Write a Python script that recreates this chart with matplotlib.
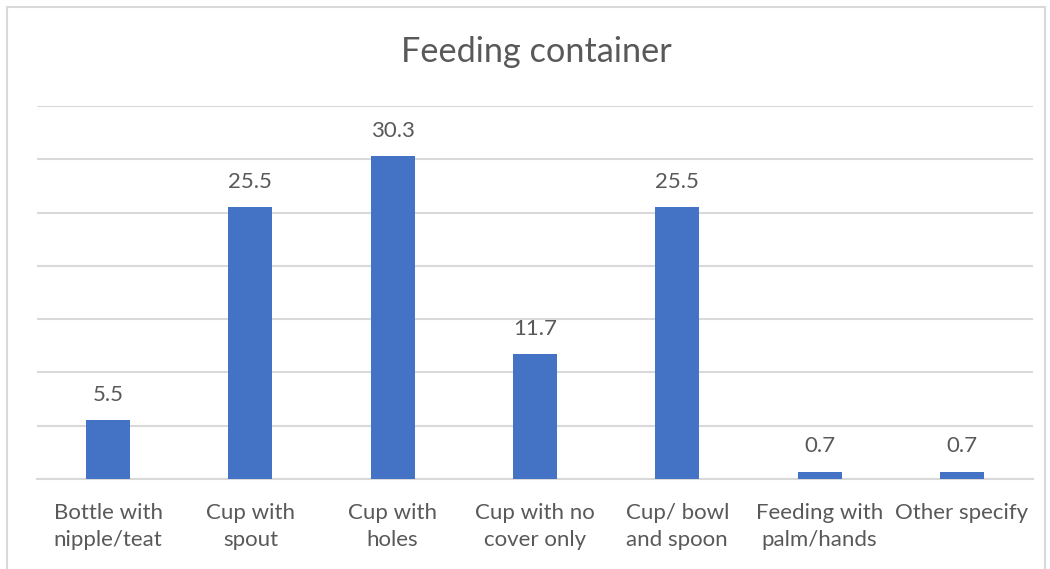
import matplotlib.pyplot as plt
from matplotlib.patches import Rectangle

# Feeding container shares (%)
categories = ["Bottle with\nnipple/teat", "Cup with\nspout", "Cup with\nholes",
              "Cup with no\ncover only", "Cup/ bowl\nand spoon", "Feeding with\npalm/hands",
              "Other specify"]
values = [5.5, 25.5, 30.3, 11.7, 25.5, 0.7, 0.7]

text_color = "#595959"
bar_color = "#4472C4"
grid_color = "#D9D9D9"

plt.rcParams['font.family'] = ['Lato', 'DejaVu Sans']

fig = plt.figure(figsize=(10.5, 5.69), dpi=100)
ax = fig.add_axes([0.0352, 0.1582, 0.9486, 0.6555])

x = range(len(categories))
bars = ax.bar(x, values, width=0.31, color=bar_color, zorder=3)

for b, v in zip(bars, values):
    ax.annotate(f"{v}", (b.get_x() + b.get_width() / 2, v), xytext=(0, 11),
                textcoords="offset points", ha="center", va="bottom",
                fontsize=16, color=text_color)

ax.set_xlim(-0.5, len(categories) - 0.5)
ax.set_ylim(0, 35)
ax.set_yticks(range(0, 36, 5))
ax.yaxis.grid(True, color=grid_color, linewidth=1.5, zorder=0)
ax.set_yticklabels([])
ax.tick_params(axis="y", length=0)
ax.tick_params(axis="x", length=0, pad=17, labelsize=16, labelcolor=text_color)
ax.set_xticks(list(x))
ax.set_xticklabels(categories, linespacing=1.45, va="top")
for s in ["top", "right", "left"]:
    ax.spines[s].set_visible(False)
ax.spines["bottom"].set_color(grid_color)
ax.spines["bottom"].set_linewidth(1.5)

fig.text(536 / 1050, 1 - 52 / 569, "Feeding container", ha="center", va="center",
         fontsize=24.7, color=text_color)

# light frame around the chart
fig.patches.append(Rectangle((7 / 1050, -0.05), 1038 / 1050, 1.05 - 7 / 569,
                             transform=fig.transFigure, fill=False,
                             edgecolor=grid_color, linewidth=1.5))

fig.savefig("out.png", dpi=100)
